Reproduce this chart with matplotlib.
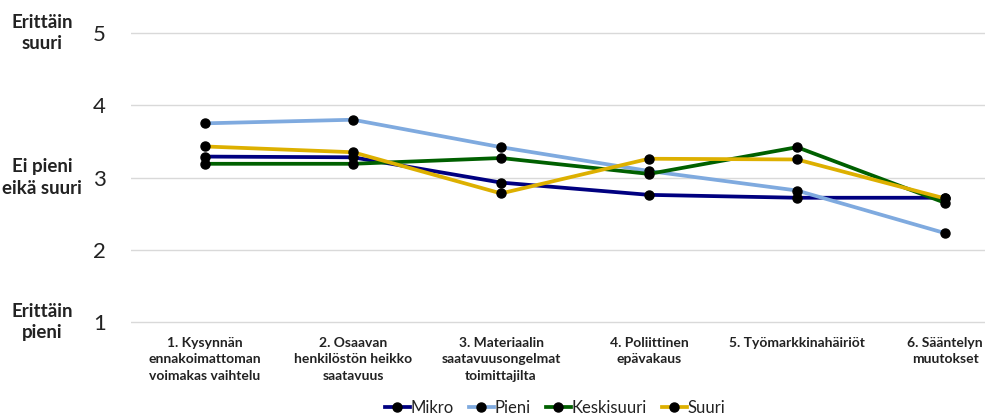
import matplotlib
matplotlib.use("Agg")
import matplotlib.pyplot as plt
from matplotlib import transforms

categories = ["1. Kysynnän\nennakoimattoman\nvoimakas vaihtelu",
              "2. Osaavan\nhenkilöstön heikko\nsaatavuus",
              "3. Materiaalin\nsaatavuusongelmat\ntoimittajilta",
              "4. Poliittinen\nepävakaus",
              "5. Työmarkkinahäiriöt",
              "6. Sääntelyn\nmuutokset"]
series_names = ["Mikro", "Pieni", "Keskisuuri", "Suuri"]
mikro = [3.29, 3.28, 2.93, 2.76, 2.72, 2.72]
pieni = [3.75, 3.80, 3.42, 3.09, 2.82, 2.23]
keskisuuri = [3.19, 3.19, 3.27, 3.05, 3.42, 2.65]
suuri = [3.43, 3.35, 2.78, 3.26, 3.25, 2.71]
colors = ["#000080", "#7FAADF", "#006000", "#DDB000"]
yticks = [1, 2, 3, 4, 5]
side_labels = {5: "Erittäin\nsuuri", 3: "Ei pieni\neikä suuri", 1: "Erittäin\npieni"}

plt.rcParams['font.family'] = ['Lato', 'DejaVu Sans']

fig = plt.figure(figsize=(9.85, 4.18), dpi=100)
ax = fig.add_axes([131/985, 0.221, 1 - 131/985, 0.7086])

x = list(range(len(categories)))
for name, vals, c in zip(series_names, [mikro, pieni, keskisuuri, suuri], colors):
    ax.plot(x, vals, color=c, lw=2.7, marker='o', markersize=6.5,
            markerfacecolor='black', markeredgecolor='black', label=name, zorder=3)

ax.set_xlim(-0.5, 5.27)
ax.set_ylim(0.95, 5.05)
ax.set_yticks(yticks)
ax.set_yticklabels([str(v) for v in yticks], fontsize=16, color='#222222')
ax.tick_params(axis='y', length=0, pad=18)
ax.set_xticks(x)
ax.set_xticklabels(categories, fontsize=10, fontweight='bold', color='#222222', linespacing=1.45)
ax.tick_params(axis='x', length=0, pad=8)
ax.grid(axis='y', color='#D9D9D9', lw=1)
ax.set_axisbelow(True)
for s in ax.spines.values():
    s.set_visible(False)

trans = transforms.blended_transform_factory(fig.transFigure, ax.transData)
for yv, txt in side_labels.items():
    ax.text(42/985, yv, txt, transform=trans, ha='center', va='center',
            fontsize=13.5, fontweight='bold', color='#222222', linespacing=1.35)

fig.legend(loc='center', bbox_to_anchor=(555/985, 1 - 408/418), ncol=4, frameon=False,
           fontsize=12, handlelength=1.5, handletextpad=0.05, columnspacing=0.9,
           labelcolor='#222222')

fig.savefig("out.png", dpi=100)
